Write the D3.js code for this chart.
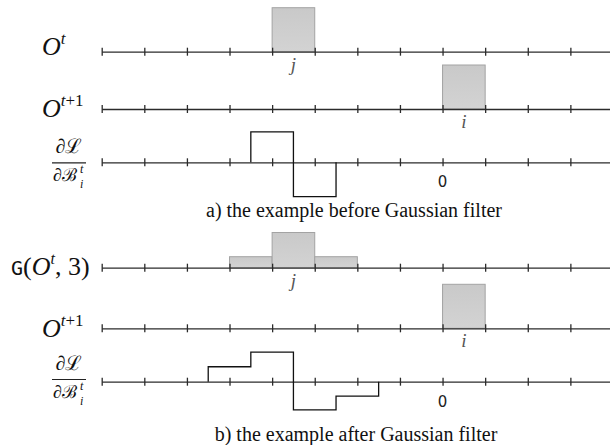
<!DOCTYPE html>
<html lang="en">
<head>
<meta charset="utf-8">
<title>Gaussian filter example</title>
<style>
  body { margin: 0; background: #fff; }
  svg { display: block; }
  .axis path, .axis line { stroke: #2b2b2b; stroke-width: 1.3px; }
  .bar { fill: url(#barFill); stroke: #a3a3a3; stroke-width: 1px; }
  .step { fill: none; stroke: #111; stroke-width: 1.3px; }
  .math { font-family: "Liberation Serif", "Times New Roman", serif; fill: #111; }
  .mark { font-family: "Liberation Serif", serif; font-style: italic; font-size: 19px; fill: #555; }
  .zero { font-family: "DejaVu Sans", sans-serif; font-size: 15px; fill: #222; }
  .caption { font-family: "Liberation Serif", "Times New Roman", serif; font-size: 20px; fill: #111; }
</style>
</head>
<body>
<svg id="chart" width="610" height="445"></svg>
<script src="https://d3js.org/d3.v7.min.js"></script>
<script>
// cell index of every tick on each line
var tickIdx = d3.range(12);

// a) before Gaussian filter
var obsT = [{x0: 4, x1: 5, v: 1}];
var obsT1 = [{x0: 8, x1: 9, v: 1}];
var gradBefore = [{x0: 3.5, x1: 4.5, v: 0.69}, {x0: 4.5, x1: 5.5, v: -0.78}];

// b) after Gaussian filter
var gaussT = [{x0: 3, x1: 4, v: 0.25}, {x0: 4, x1: 5, v: 0.8}, {x0: 5, x1: 6, v: 0.25}];
var gradAfter = [{x0: 2.5, x1: 3.5, v: 0.34}, {x0: 3.5, x1: 4.5, v: 0.67},
                 {x0: 4.5, x1: 5.5, v: -0.64}, {x0: 5.5, x1: 6.5, v: -0.33}];

var jPos = 4.5, iPos = 8.5, zeroPos = 8;

var svg = d3.select("#chart");

var grad = svg.append("defs").append("linearGradient")
    .attr("id", "barFill").attr("x1", 0).attr("y1", 0).attr("x2", 0).attr("y2", 1);
grad.append("stop").attr("offset", "0%").attr("stop-color", "#c9c9c9");
grad.append("stop").attr("offset", "100%").attr("stop-color", "#d3d3d3");

var x = d3.scaleLinear().domain([0, 11.93]).range([101.7, 610]);
var y = d3.scaleLinear().domain([0, 1]).range([0, -44]);

var axis = d3.axisBottom(x).tickValues(tickIdx).tickFormat("").tickSizeOuter(0);

function row(yPos) {
  return svg.append("g").attr("transform", "translate(0," + yPos + ")");
}

function drawAxis(g) {
  var a = g.append("g").attr("class", "axis").call(axis);
  a.selectAll(".tick line").attr("y1", -4).attr("y2", 4);
  return a;
}

function drawBars(g, data) {
  g.selectAll("rect.bar").data(data).enter().append("rect")
    .attr("class", "bar")
    .attr("x", function(d) { return x(d.x0); })
    .attr("width", function(d) { return x(d.x1) - x(d.x0); })
    .attr("y", function(d) { return y(d.v); })
    .attr("height", function(d) { return y(0) - y(d.v); });
}

function drawStep(g, data) {
  var pts = [[data[0].x0, 0]];
  data.forEach(function(d) { pts.push([d.x0, d.v]); pts.push([d.x1, d.v]); });
  pts.push([data[data.length - 1].x1, 0]);
  var line = d3.line().x(function(p) { return x(p[0]); }).y(function(p) { return y(p[1]); });
  g.append("path").attr("class", "step").attr("d", line(pts));
}

function mark(g, pos, txt, dy) {
  g.append("text").attr("class", "mark").attr("x", x(pos)).attr("y", dy)
    .attr("text-anchor", "middle").text(txt);
}

function zero(g) {
  g.append("text").attr("class", "zero").attr("x", x(zeroPos)).attr("y", 25)
    .attr("text-anchor", "middle").text("0");
}

// O^t style label, baseline at by
function obsLabel(px, by, sup) {
  var t = svg.append("text").attr("class", "math").attr("x", px).attr("y", by)
    .style("font-size", "26px");
  t.append("tspan").style("font-style", "italic").text("O");
  var s = t.append("tspan").attr("dy", -11).style("font-size", "17px");
  s.append("tspan").style("font-style", "italic").text("t");
  if (sup) s.append("tspan").text(sup);
}

// dL / dB_i^t, fraction bar at axisY
function fracLabel(axisY) {
  svg.append("text").attr("class", "math").attr("x", 69).attr("y", axisY - 9)
    .attr("text-anchor", "middle").style("font-size", "20px").text("\u2202\u2112");
  svg.append("line").attr("x1", 52).attr("x2", 86).attr("y1", axisY + 0.5).attr("y2", axisY + 0.5)
    .attr("stroke", "#222").attr("stroke-width", 1.2);
  svg.append("text").attr("class", "math").attr("x", 53).attr("y", axisY + 19)
    .style("font-size", "18px").text("\u2202\u212C");
  svg.append("text").attr("class", "math").attr("x", 80).attr("y", axisY + 11)
    .style("font-size", "12px").style("font-style", "italic").text("t");
  svg.append("text").attr("class", "math").attr("x", 80).attr("y", axisY + 26)
    .style("font-size", "12px").style("font-style", "italic").text("i");
}

// ---------- a) ----------
var r1 = row(51.7);
drawBars(r1, obsT); drawAxis(r1); mark(r1, jPos, "j", 19);
obsLabel(42, 55);

var r2 = row(109);
drawBars(r2, obsT1); drawAxis(r2); mark(r2, iPos, "i", 19);
obsLabel(42, 117, "+1");

var r3 = row(162.3);
drawAxis(r3); drawStep(r3, gradBefore); zero(r3);
fracLabel(162.3);

svg.append("text").attr("class", "caption").attr("x", 354).attr("y", 217)
  .attr("text-anchor", "middle").text("a) the example before Gaussian filter");

// ---------- b) ----------
var r4 = row(267.7);
drawBars(r4, gaussT); drawAxis(r4); mark(r4, jPos, "j", 19);
var gl = svg.append("text").attr("class", "math").attr("x", 11).attr("y", 275).style("font-size", "26px");
gl.append("tspan").style("font-family", "'DejaVu Sans Mono', 'Liberation Mono', monospace").style("font-size", "20px").text("G");
gl.append("tspan").text("(");
gl.append("tspan").style("font-style", "italic").text("O");
gl.append("tspan").attr("dy", -11).style("font-size", "16px").style("font-style", "italic").text("t");
gl.append("tspan").attr("dy", 11).text(", 3)");

var r5 = row(328.3);
drawBars(r5, obsT1); drawAxis(r5); mark(r5, iPos, "i", 19);
obsLabel(42, 337, "+1");

var r6 = row(381.7);
drawAxis(r6); drawStep(r6, gradAfter); zero(r6);
fracLabel(379);

svg.append("text").attr("class", "caption").attr("x", 356).attr("y", 441)
  .attr("text-anchor", "middle").text("b) the example after Gaussian filter");
</script>
</body>
</html>
